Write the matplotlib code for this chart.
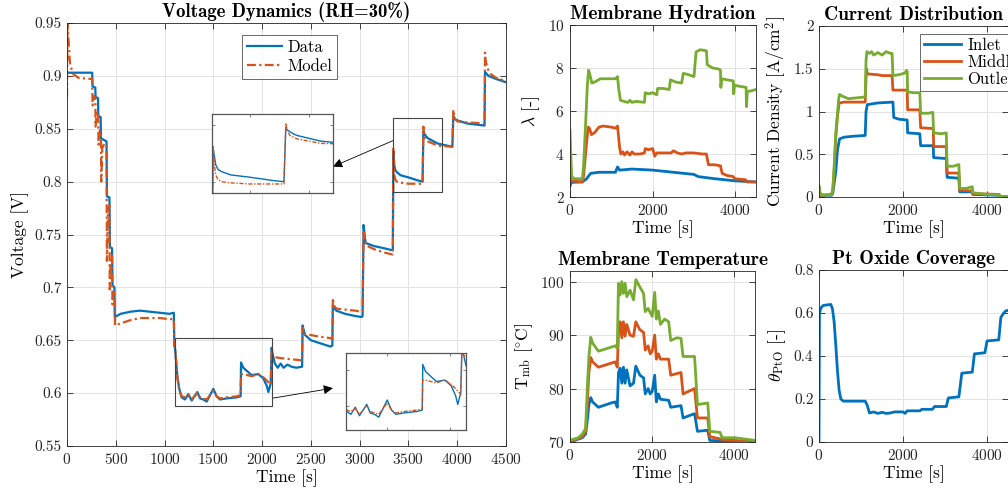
import numpy as np
import matplotlib
matplotlib.use("Agg")
import matplotlib.pyplot as plt
from matplotlib.patches import Rectangle
from matplotlib.ticker import FuncFormatter

plt.rcParams['font.family'] = ['cmr10', 'DejaVu Serif']
plt.rcParams['mathtext.fontset'] = 'cm'
plt.rcParams['axes.formatter.use_mathtext'] = True

BLUE = '#0072BD'
ORANGE = '#D95319'
GREEN = '#77AC30'

# ---------------- Voltage data ----------------
v_data_t = [0, 258, 262, 290, 293, 318, 321, 345, 348, 405, 410, 435, 440, 462, 466, 486, 490,
            550, 650, 750, 850, 950, 1050, 1095, 1100, 1107, 1131, 1151, 1175, 1209, 1244, 1278,
            1336, 1363, 1397, 1432, 1500, 1534, 1568, 1637, 1739, 1780, 1784, 1807, 1893, 1961,
            2012, 2047, 2064, 2088, 2098, 2105, 2130, 2160, 2190, 2220, 2260, 2300, 2350, 2410,
            2415, 2425, 2440, 2500, 2600, 2700, 2720, 2725, 2735, 2760, 2850, 2950, 3020, 3030,
            3040, 3060, 3150, 3250, 3340, 3345, 3352, 3356, 3365, 3380, 3420, 3500, 3600, 3645,
            3653, 3658, 3680, 3700, 3800, 3950, 3960, 3965, 3980, 4000, 4100, 4280, 4285, 4290,
            4320, 4400, 4500]
v_data = [0.903, 0.903, 0.890, 0.889, 0.880, 0.879, 0.862, 0.861, 0.841, 0.838, 0.786, 0.785, 0.738, 0.737, 0.702, 0.700, 0.672,
          0.675, 0.677, 0.678, 0.677, 0.676, 0.675, 0.676, 0.645, 0.643, 0.616, 0.604, 0.596, 0.594, 0.599, 0.593,
          0.601, 0.595, 0.594, 0.592, 0.604, 0.597, 0.594, 0.595, 0.596, 0.597, 0.629, 0.624, 0.617, 0.618,
          0.614, 0.607, 0.601, 0.609, 0.643, 0.638, 0.628, 0.624, 0.628, 0.624, 0.627, 0.625, 0.624, 0.625,
          0.664, 0.660, 0.655, 0.650, 0.647, 0.644, 0.645, 0.683, 0.681, 0.678, 0.675, 0.673, 0.672, 0.673,
          0.759, 0.742, 0.739, 0.737, 0.735, 0.829, 0.820, 0.815, 0.811, 0.809, 0.806, 0.804, 0.801, 0.800,
          0.848, 0.846, 0.843, 0.841, 0.836, 0.833, 0.862, 0.861, 0.859, 0.858, 0.855, 0.853, 0.904, 0.903,
          0.900, 0.897, 0.894]

v_model_t = [0, 5, 15, 30, 60, 120, 258, 262, 275, 290, 293, 305, 320, 323, 335, 348, 351, 362, 385, 405,
             409, 420, 435, 438, 448, 462, 466, 476, 488, 492, 550, 650, 750, 850, 950, 1050, 1095, 1100,
             1110, 1131, 1151, 1175, 1209, 1244, 1278, 1336, 1363, 1397, 1432, 1500, 1534, 1568, 1637, 1739,
             1780, 1784, 1807, 1893, 1961, 2012, 2047, 2088, 2098, 2105, 2130, 2200, 2300, 2410, 2415, 2425,
             2440, 2550, 2700, 2720, 2725, 2735, 2760, 2850, 2950, 3020, 3030, 3040, 3060, 3150, 3250, 3340,
             3345, 3350, 3356, 3365, 3380, 3420, 3500, 3645, 3653, 3658, 3670, 3700, 3750, 3800, 3950, 3960,
             3965, 3980, 4000, 4100, 4280, 4285, 4290, 4310, 4340, 4400, 4500]
v_model = [0.880, 0.950, 0.935, 0.912, 0.902, 0.898, 0.897, 0.872, 0.881, 0.880, 0.852, 0.866, 0.864, 0.835, 0.848, 0.846, 0.800, 0.832, 0.836, 0.834,
           0.725, 0.772, 0.778, 0.698, 0.728, 0.730, 0.684, 0.695, 0.697, 0.664, 0.666, 0.669, 0.671, 0.671, 0.671, 0.670, 0.670, 0.645,
           0.641, 0.614, 0.603, 0.597, 0.596, 0.598, 0.594, 0.600, 0.596, 0.595, 0.594, 0.602, 0.597, 0.595, 0.596, 0.597,
           0.598, 0.618, 0.618, 0.616, 0.618, 0.615, 0.612, 0.608, 0.640, 0.636, 0.634, 0.633, 0.632, 0.631, 0.662, 0.657,
           0.656, 0.654, 0.652, 0.652, 0.690, 0.683, 0.680, 0.679, 0.678, 0.677, 0.678, 0.752, 0.740, 0.736, 0.733, 0.731,
           0.832, 0.815, 0.806, 0.802, 0.800, 0.799, 0.798, 0.798, 0.852, 0.846, 0.841, 0.838, 0.836, 0.834, 0.833, 0.868,
           0.863, 0.859, 0.857, 0.856, 0.855, 0.922, 0.915, 0.907, 0.902, 0.898, 0.895]

# ---------------- Membrane hydration ----------------
lam_out_t = [0, 15, 40, 100, 300, 330, 380, 420, 450, 480, 530, 600, 735, 900, 1100, 1150, 1180, 1220, 1300, 1400,
             1450, 1500, 1600, 1800, 1820, 1900, 2000, 2100, 2120, 2250, 2400, 2430, 2550, 2700, 2740, 2850, 3000,
             3050, 3150, 3300, 3320, 3450, 3600, 3640, 3650, 3670, 3800, 3950, 3960, 3980, 4100, 4260, 4270, 4290,
             4400, 4500]
lam_out = [5.1, 4.2, 2.95, 2.85, 2.85, 3.5, 5.5, 7.2, 7.9, 7.7, 7.3, 7.35, 7.5, 7.5, 7.5, 7.6, 7.0, 6.5, 6.45, 6.4,
           6.5, 6.4, 6.45, 6.4, 6.85, 6.8, 6.85, 6.75, 7.05, 7.05, 7.0, 7.45, 7.35, 7.3, 7.75, 7.7, 7.6,
           8.75, 8.85, 8.8, 8.15, 8.0, 7.95, 7.9, 7.1, 7.5, 7.45, 7.4, 6.8, 7.2, 7.15, 7.1, 6.2, 6.9,
           6.95, 7.0]
lam_mid_t = [0, 30, 300, 330, 400, 440, 470, 520, 600, 700, 800, 1000, 1100, 1150, 1200, 1230, 1280, 1320, 1380,
             1450, 1500, 1550, 1700, 1800, 1820, 1900, 2000, 2050, 2100, 2300, 2450, 2500, 2600, 2700, 2800, 3000,
             3200, 3300, 3350, 3500, 3640, 3680, 3800, 3950, 3980, 4250, 4280, 4500]
lam_mid = [3.0, 2.75, 2.7, 3.0, 4.5, 5.25, 5.2, 4.9, 5.0, 5.25, 5.3, 5.25, 5.2, 5.3, 4.3, 4.0, 4.1, 3.95, 4.1,
           3.95, 4.1, 4.0, 4.0, 4.05, 4.25, 4.2, 4.25, 3.9, 4.05, 4.05, 4.05, 4.15, 4.05, 4.0, 4.05, 4.05,
           4.0, 4.0, 3.5, 3.5, 3.45, 3.1, 3.0, 2.95, 2.85, 2.8, 2.7, 2.7]
lam_in_t = [0, 30, 300, 400, 500, 700, 1100, 1150, 1200, 1500, 2000, 2500, 3000, 3100, 3500, 4000, 4500]
lam_in = [2.5, 2.68, 2.7, 2.85, 3.1, 3.15, 3.15, 3.4, 3.25, 3.3, 3.25, 3.15, 3.05, 2.95, 2.85, 2.75, 2.7]

# ---------------- Current distribution ----------------
j_out_t = [0, 30, 150, 300, 330, 360, 400, 440, 470, 490, 550, 700, 900, 1100, 1120, 1140, 1200, 1250, 1300, 1400,
           1500, 1600, 1700, 1740, 1760, 1900, 2050, 2080, 2100, 2110, 2250, 2400, 2420, 2600, 2710, 2730, 2900,
           3030, 3050, 3200, 3330, 3350, 3500, 3650, 3660, 4000, 4290, 4300, 4500]
j_out = [0.13, 0.03, 0.02, 0.03, 0.1, 0.35, 0.75, 0.98, 1.15, 1.2, 1.18, 1.15, 1.16, 1.17, 1.6, 1.7, 1.68, 1.7, 1.66, 1.69,
         1.66, 1.7, 1.68, 1.68, 1.42, 1.43, 1.45, 1.48, 1.47, 1.23, 1.22, 1.22, 0.98, 0.98, 0.99, 0.75, 0.74,
         0.75, 0.36, 0.36, 0.38, 0.10, 0.10, 0.12, 0.05, 0.03, 0.03, 0.005, 0.005]
j_mid_t = [0, 30, 300, 330, 360, 400, 440, 480, 600, 1100, 1120, 1130, 1150, 1400, 1500, 1740, 1760, 2100, 2110,
           2400, 2420, 2720, 2730, 3030, 3050, 3330, 3350, 3650, 3660, 4290, 4300, 4500]
j_mid = [0.1, 0.02, 0.03, 0.08, 0.3, 0.7, 0.95, 1.1, 1.11, 1.11, 1.4, 1.5, 1.44, 1.43, 1.42, 1.42, 1.25, 1.25, 1.02,
         1.02, 0.81, 0.8, 0.59, 0.59, 0.28, 0.28, 0.08, 0.07, 0.04, 0.03, 0.005, 0.005]
j_in_t = [0, 30, 300, 330, 400, 440, 490, 600, 800, 1100, 1120, 1150, 1400, 1760, 1780, 1900, 2100, 2110, 2400,
          2420, 2720, 2730, 3030, 3050, 3330, 3350, 3650, 3660, 4290, 4300, 4500]
j_in = [0.12, 0.02, 0.02, 0.05, 0.3, 0.55, 0.68, 0.70, 0.71, 0.72, 1.0, 1.08, 1.10, 1.11, 0.93, 0.91, 0.90, 0.75, 0.74,
        0.60, 0.60, 0.46, 0.45, 0.23, 0.22, 0.06, 0.06, 0.03, 0.02, 0.005, 0.005]

# ---------------- Membrane temperature ----------------
T_out_t = [0, 200, 300, 380, 420, 460, 505, 550, 690, 900, 1100, 1150, 1179, 1220, 1260, 1301, 1341, 1382, 1463,
           1545, 1602, 1707, 1789, 1829, 1900, 2000, 2060, 2100, 2150, 2200, 2300, 2400, 2450, 2600, 2700, 2750,
           3000, 3030, 3100, 3350, 3400, 3650, 3700, 4000, 4300, 4500]
T_out = [70.3, 70.8, 71.5, 72.5, 80, 86, 89.6, 88.5, 87, 87.5, 88, 87.5, 99.7, 97.5, 100, 97.8, 99.7, 97.2, 98.4,
         96.6, 100.4, 98.9, 97.8, 94.4, 95, 93.5, 98, 93, 94.5, 92, 93, 92.5, 89, 89.5, 89.4, 86,
         86, 86, 77, 77.3, 72, 71.8, 70.8, 70.8, 70.5, 70.3]
T_mid_t = [0, 300, 380, 420, 460, 505, 550, 690, 900, 1100, 1150, 1180, 1220, 1260, 1300, 1340, 1380, 1460, 1545,
           1600, 1700, 1790, 1830, 1900, 1950, 2000, 2060, 2100, 2150, 2200, 2400, 2450, 2700, 2750, 3030, 3100,
           3350, 3400, 3700, 4000, 4500]
T_mid = [70.0, 71, 72, 77, 83, 85.8, 85, 84, 84.5, 85, 84, 90.5, 92.5, 89.5, 92.5, 89.8, 92, 90, 89.8,
         92.5, 91, 90.5, 87.2, 88, 86.5, 87, 90, 85.5, 86.5, 85.5, 85.5, 82.5, 83, 79, 80, 74.5,
         74.5, 71, 70.5, 70.3, 70.0]
T_in_t = [0, 300, 380, 420, 460, 505, 550, 690, 1000, 1100, 1150, 1180, 1220, 1260, 1300, 1340, 1380, 1460, 1545,
          1600, 1700, 1790, 1830, 1900, 1950, 2000, 2060, 2100, 2150, 2200, 2400, 2450, 2700, 2750, 3030, 3100,
          3350, 3400, 3700, 4000, 4500]
T_in = [70.0, 70.8, 71.5, 74, 77, 78.3, 77.5, 76.5, 77.3, 77.5, 76.5, 83, 83.8, 81, 84, 81, 83.5, 80.5, 81,
        84.2, 82.5, 82, 79, 80, 79, 79.5, 82.5, 77.5, 79, 78, 77.8, 76.5, 76.8, 74.5, 75.3, 72,
        72.2, 70.3, 70.2, 70.0, 69.8]

# ---------------- Pt oxide coverage ----------------
pto_t = [0, 10, 50, 100, 280, 320, 360, 400, 440, 480, 520, 580, 1100, 1150, 1200, 1300, 1400, 1500, 1600, 1700,
         1800, 2000, 2050, 2100, 2400, 2450, 2700, 2750, 3030, 3080, 3330, 3400, 3650, 3700, 3950, 4000, 4280,
         4330, 4400, 4450, 4500]
pto = [0, 0.6, 0.625, 0.635, 0.64, 0.62, 0.56, 0.45, 0.33, 0.24, 0.2, 0.19, 0.19, 0.17, 0.135, 0.14, 0.133, 0.138, 0.133, 0.135,
       0.14, 0.14, 0.133, 0.145, 0.145, 0.152, 0.152, 0.165, 0.165, 0.205, 0.21, 0.32, 0.325, 0.41, 0.415, 0.47, 0.475,
       0.58, 0.60, 0.61, 0.612]

W, H = 1008, 495
fig = plt.figure(figsize=(W / 100, H / 100), dpi=100)


def fax(l, t, r, b):
    return fig.add_axes([l / W, (H - b) / H, (r - l) / W, (b - t) / H])


def style(ax):
    for s in ax.spines.values():
        s.set_color('#262626')
        s.set_linewidth(0.6)
    ax.tick_params(direction='in', top=True, right=True, length=4, width=0.6,
                   labelsize=11, colors='#262626', labelcolor='#262626', pad=4)
    ax.grid(True, color='#e3e3e3', linewidth=0.7)
    ax.set_axisbelow(True)


gfmt = FuncFormatter(lambda v, p: ('%g' % round(v, 6)))
TFS = 14

# Main axes
ax = fax(67, 23, 506, 446)
style(ax)
ax.plot(v_data_t, v_data, color=BLUE, lw=1.6, label='Data')
ax.plot(v_model_t, v_model, color=ORANGE, lw=1.6, dashes=(4, 1.5, 1, 1.5), label='Model')
ax.set_xlim(0, 4500)
ax.set_ylim(0.55, 0.95)
ax.set_xticks(np.arange(0, 4501, 500))
ax.set_yticks(np.arange(0.55, 0.951, 0.05))
ax.yaxis.set_major_formatter(gfmt)
ax.set_xlabel('Time [s]', fontsize=12.5, labelpad=2)
ax.set_ylabel('Voltage [V]', fontsize=12.5, labelpad=4)
ax.set_title('Voltage Dynamics (RH=30%)', fontsize=13.5, family='cmb10', pad=4)
leg = ax.legend(loc='upper left', bbox_to_anchor=(0.399, 0.972), fontsize=12, frameon=True, fancybox=False,
                edgecolor='#262626', handlelength=2.1, borderpad=0.3, labelspacing=0.2, handletextpad=0.3,
                borderaxespad=0)
leg.get_frame().set_linewidth(0.6)

# zoom rectangles
ax.add_patch(Rectangle((3340, 0.7905), 503, 0.0695, fill=False, edgecolor='#444444', lw=0.8, zorder=5))
ax.add_patch(Rectangle((1107, 0.588), 995, 0.064, fill=False, edgecolor='#444444', lw=0.8, zorder=5))
ax.annotate('', xy=(2726, 0.8142), xytext=(3340, 0.8387),
            arrowprops=dict(arrowstyle='-|>', color='k', lw=0.6, mutation_scale=14, shrinkA=0, shrinkB=0))
ax.annotate('', xy=(2726, 0.6047), xytext=(2112, 0.5953),
            arrowprops=dict(arrowstyle='-|>', color='k', lw=0.6, mutation_scale=14, shrinkA=0, shrinkB=0))


def inset_style(a):
    for s in a.spines.values():
        s.set_color('#555555')
        s.set_linewidth(0.9)
    a.tick_params(direction='in', top=True, right=True, length=2, width=0.5, colors='#555555',
                  labelbottom=False, labelleft=False)


ins1 = fax(212, 114, 333, 193)
ins1.plot(v_data_t, v_data, color=BLUE, lw=1.0)
ins1.plot(v_model_t, v_model, color=ORANGE, lw=1.0, dashes=(3, 1.2, 1, 1.2))
ins1.set_xlim(3340, 3853)
ins1.set_ylim(0.79, 0.86)
inset_style(ins1)

ins2 = fax(346, 353, 466, 430)
ins2.plot(v_data_t, v_data, color=BLUE, lw=1.0)
ins2.plot(v_model_t, v_model, color=ORANGE, lw=1.0, dashes=(3, 1.2, 1, 1.2))
ins2.set_xlim(1170, 2130)
ins2.set_ylim(0.583, 0.637)
inset_style(ins2)

# Membrane hydration
a1 = fax(570, 25, 756, 197)
style(a1)
a1.plot(lam_in_t, lam_in, color=BLUE, lw=2)
a1.plot(lam_mid_t, lam_mid, color=ORANGE, lw=2)
a1.plot(lam_out_t, lam_out, color=GREEN, lw=2)
a1.set_xlim(0, 4500)
a1.set_ylim(2, 10)
a1.set_xticks([0, 2000, 4000])
a1.set_yticks([2, 4, 6, 8, 10])
a1.set_xlabel('Time [s]', fontsize=12.5, labelpad=2)
a1.set_ylabel(r'$\lambda$ [-]', fontsize=12.5, labelpad=4)
a1.set_title('Membrane Hydration', fontsize=TFS, family='cmb10', pad=4)

# Current distribution
a2 = fax(819, 26, 1008, 197)
style(a2)
a2.plot(j_in_t, j_in, color=BLUE, lw=2, label='Inlet')
a2.plot(j_mid_t, j_mid, color=ORANGE, lw=2, label='Middle')
a2.plot(j_out_t, j_out, color=GREEN, lw=2, label='Outlet')
a2.set_xlim(0, 4500)
a2.set_ylim(0, 2)
a2.set_xticks([0, 2000, 4000])
a2.set_yticks([0, 0.5, 1, 1.5, 2])
a2.yaxis.set_major_formatter(gfmt)
a2.set_xlabel('Time [s]', fontsize=12.5, labelpad=2)
a2.set_ylabel(r'Current Density [A/cm$^2$]', fontsize=12.5, labelpad=4)
a2.set_title('Current Distribution', fontsize=TFS, family='cmb10', pad=4)
leg2 = a2.legend(loc='upper left', bbox_to_anchor=(0.535, 0.955), fontsize=12, frameon=True, fancybox=False,
                 edgecolor='#262626', handlelength=2.2, borderpad=0.25, labelspacing=0.1, handletextpad=0.4,
                 borderaxespad=0)
leg2.get_frame().set_linewidth(0.6)

# Membrane temperature
a3 = fax(570, 271, 755, 442)
style(a3)
a3.plot(T_in_t, T_in, color=BLUE, lw=2)
a3.plot(T_mid_t, T_mid, color=ORANGE, lw=2)
a3.plot(T_out_t, T_out, color=GREEN, lw=2)
a3.set_xlim(0, 4500)
a3.set_ylim(70, 102)
a3.set_xticks([0, 2000, 4000])
a3.set_yticks([70, 80, 90, 100])
a3.set_xlabel('Time [s]', fontsize=12.5, labelpad=2)
a3.set_ylabel(r'T$_{\rm mb}$ [$^{\circ}$C]', fontsize=12.5, labelpad=4)
a3.set_title('Membrane Temperature', fontsize=TFS, family='cmb10', pad=4)

# Pt oxide coverage
a4 = fax(819, 270, 1008, 442)
style(a4)
a4.plot(pto_t, pto, color=BLUE, lw=2)
a4.set_xlim(0, 4500)
a4.set_ylim(0, 0.8)
a4.set_xticks([0, 2000, 4000])
a4.set_yticks([0, 0.2, 0.4, 0.6, 0.8])
a4.yaxis.set_major_formatter(gfmt)
a4.set_xlabel('Time [s]', fontsize=12.5, labelpad=2)
a4.set_ylabel(r'$\theta_{\rm PtO}$ [-]', fontsize=12.5, labelpad=4)
a4.set_title('Pt Oxide Coverage', fontsize=TFS, family='cmb10', pad=4)

fig.savefig('out.png', dpi=100)
